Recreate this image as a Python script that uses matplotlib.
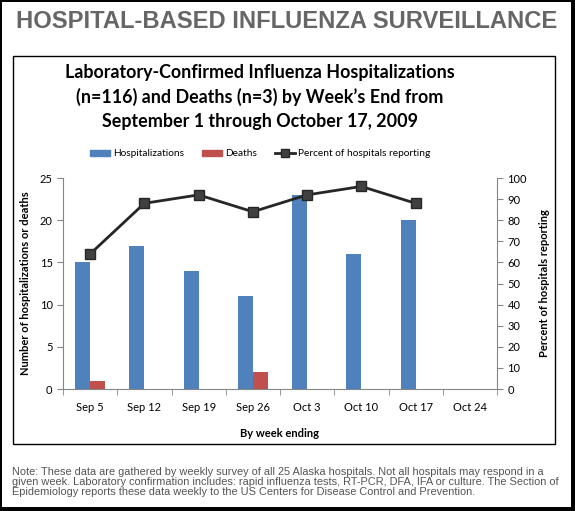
import matplotlib
matplotlib.use("Agg")
from matplotlib import pyplot as plt
from matplotlib.patches import Rectangle, Patch
from matplotlib.lines import Line2D
import numpy as np

WEEKS = ['Sep 5', 'Sep 12', 'Sep 19', 'Sep 26', 'Oct 3', 'Oct 10', 'Oct 17', 'Oct 24']
HOSPITALIZATIONS = [15, 17, 14, 11, 23, 16, 20, 0]
DEATHS = [1, 0, 0, 2, 0, 0, 0, 0]
PCT_REPORTING = [64, 88, 92, 84, 92, 96, 88]

BLUE = '#4F81BD'
RED = '#C0504D'
AXIS_GRAY = '#868686'
W, H = 575, 511


def px_box(x0, y0, x1, y1):
    # pixel box (top-left origin) -> figure fraction [l, b, w, h]
    return [x0 / W, (H - y1) / H, (x1 - x0) / W, (y1 - y0) / H]


fig = plt.figure(figsize=(W / 100, H / 100), dpi=100, facecolor='black')

# white page inside the black frame, then the chart box
l, b, w, h = px_box(2, 2, 571, 507)
fig.patches.append(Rectangle((l, b), w, h, transform=fig.transFigure,
                             facecolor='white', edgecolor='none', zorder=-3))
l, b, w, h = px_box(13, 56, 555, 444)
fig.patches.append(Rectangle((l, b), w, h, transform=fig.transFigure,
                             facecolor='white', edgecolor='black', lw=1, zorder=-2))

fig.text(287 / W, 1 - 21 / H, 'HOSPITAL-BASED INFLUENZA SURVEILLANCE',
         ha='center', va='center', fontsize=17.1, fontweight='bold',
         color='#666666', family='Liberation Sans')

title = ('Laboratory-Confirmed Influenza Hospitalizations\n'
         '(n=116) and Deaths (n=3) by Week\u2019s End from\n'
         'September 1 through October 17, 2009')
fig.text(260 / W, 1 - 97 / H, title, ha='center', va='center', fontsize=12.9,
         fontweight='bold', family='Lato', linespacing=1.45, color='black')

ax = fig.add_axes(px_box(63, 178, 497, 389))
ax.set_facecolor('none')
x = np.arange(len(WEEKS))
bw = 0.277
ax.bar(x - bw / 2, HOSPITALIZATIONS, bw, color=BLUE, zorder=2)
ax.bar(x + bw / 2, DEATHS, bw, color=RED, zorder=2)
ax.set_xlim(-0.5, len(WEEKS) - 0.5)
ax.set_ylim(0, 25)
ax.set_yticks(range(0, 26, 5))
ax.set_xticks(x)
ax.set_xticklabels(WEEKS)
ax.set_xticks(np.arange(-0.5, len(WEEKS)), minor=True)
ax.tick_params(axis='x', which='major', length=0, pad=9)
ax.tick_params(axis='x', which='minor', length=4, color=AXIS_GRAY, direction='out')
ax.tick_params(axis='y', length=4, color=AXIS_GRAY, direction='out')
ax.tick_params(labelsize=8)
for s in ['top', 'right']:
    ax.spines[s].set_visible(False)
for s in ['left', 'bottom']:
    ax.spines[s].set_color(AXIS_GRAY)
ax.set_ylabel('Number of hospitalizations or deaths', fontsize=8, fontweight='bold', labelpad=6)
ax.set_xlabel('By week ending', fontsize=8, fontweight='bold', labelpad=11)

ax2 = ax.twinx()
ax2.plot(x[:len(PCT_REPORTING)], PCT_REPORTING, color='#262626', lw=2,
         marker='s', markersize=7, markerfacecolor='#404040',
         markeredgecolor='#262626', zorder=3)
ax2.set_ylim(0, 100)
ax2.set_yticks(range(0, 101, 10))
ax2.tick_params(axis='y', length=4, color=AXIS_GRAY, direction='out', labelsize=8)
for s in ['top', 'left', 'bottom']:
    ax2.spines[s].set_visible(False)
ax2.spines['right'].set_color(AXIS_GRAY)
ax2.set_ylabel('Percent of hospitals reporting', fontsize=8, fontweight='bold', labelpad=9)

for a in (ax, ax2):
    for lbl in a.get_xticklabels() + a.get_yticklabels():
        lbl.set_family('Lato')
    a.yaxis.label.set_family('Lato')
    a.xaxis.label.set_family('Lato')

handles = [Patch(color=BLUE), Patch(color=RED),
           Line2D([], [], color='#262626', lw=2, marker='s', markersize=6,
                  markerfacecolor='#404040')]
fig.legend(handles, ['Hospitalizations', 'Deaths', 'Percent of hospitals reporting'],
           loc='center', bbox_to_anchor=(260 / W, 1 - 154 / H), ncol=3,
           frameon=False, prop={'family': 'Lato', 'size': 7.3},
           handlelength=1.95, handleheight=0.6, columnspacing=1.8, handletextpad=0.3)

note = ('Note: These data are gathered by weekly survey of all 25 Alaska hospitals. Not all hospitals may respond in a\n'
        'given week. Laboratory confirmation includes: rapid influenza tests, RT-PCR, DFA, IFA or culture. The Section of\n'
        'Epidemiology reports these data weekly to the US Centers for Disease Control and Prevention.')
fig.text(12 / W, 1 - 482 / H, note, ha='left', va='center', fontsize=7.95,
         color='#555555', family='Liberation Sans', linespacing=1.0)

fig.savefig('out.png', dpi=100, facecolor=fig.get_facecolor())
